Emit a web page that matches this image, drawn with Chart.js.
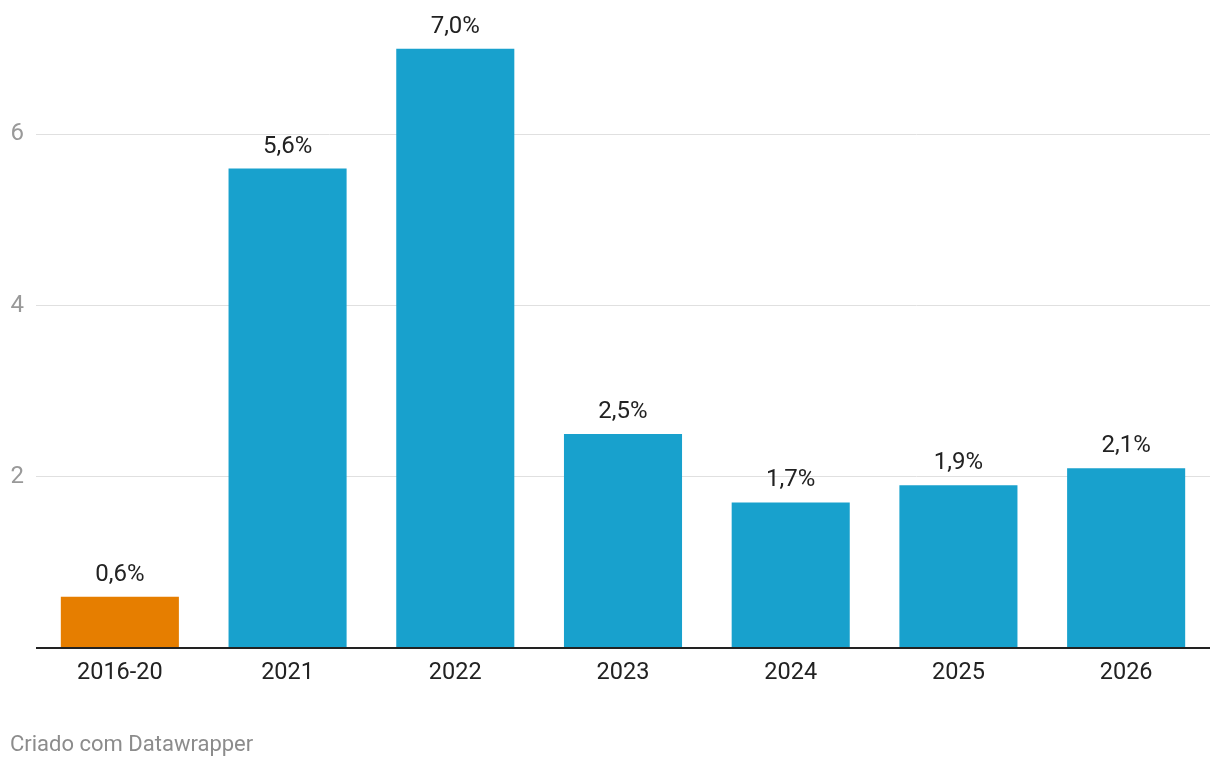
<!DOCTYPE html>
<html>
<head>
<meta charset="utf-8">
<script src="https://cdn.jsdelivr.net/npm/chart.js@4/dist/chart.umd.min.js"></script>
<style>
  html, body { margin: 0; padding: 0; background: #fff; }
  #wrap { position: relative; width: 1220px; height: 768px; }
  #footer {
    position: absolute; left: 10px; top: 731px;
    font-family: Roboto, sans-serif; font-size: 22px; color: #8c8c8c;
  }
</style>
</head>
<body>
<div id="wrap">
  <canvas id="chart" width="1220" height="768"></canvas>
  <div id="footer">Criado com Datawrapper</div>
</div>
<script>
const categories = ['2016-20', '2021', '2022', '2023', '2024', '2025', '2026'];
const values = [0.6, 5.6, 7.0, 2.5, 1.7, 1.9, 2.1];
const barColors = ['#e67e00', '#18a1cd', '#18a1cd', '#18a1cd', '#18a1cd', '#18a1cd', '#18a1cd'];
const yTicks = [0, 2, 4, 6];

// rótulos de valor acima das barras
const valueLabels = {
    id: 'valueLabels',
    afterDatasetsDraw(chart) {
        const ctx = chart.ctx;
        const meta = chart.getDatasetMeta(0);
        ctx.save();
        ctx.font = '24px Roboto';
        ctx.fillStyle = '#222';
        ctx.textAlign = 'center';
        ctx.textBaseline = 'alphabetic';
        meta.data.forEach((bar, i) => {
            ctx.fillText(values[i].toFixed(1).replace('.', ',') + '%', bar.x, bar.y - 16);
        });
        ctx.restore();
    }
};

const ctx = document.getElementById('chart').getContext('2d');
new Chart(ctx, {
    type: 'bar',
    data: {
        labels: categories,
        datasets: [{
            data: values,
            backgroundColor: barColors,
            borderWidth: 0,
            barPercentage: 0.704,
            categoryPercentage: 1
        }]
    },
    options: {
        responsive: false,
        animation: false,
        layout: { padding: { top: 6, right: 10, bottom: 80, left: 0 } },
        scales: {
            x: {
                grid: { display: false },
                border: { display: false },
                ticks: { color: '#222', font: { family: 'Roboto', size: 23.5 }, padding: 3 },
                afterFit(scale) { scale.height = 40; }
            },
            y: {
                min: 0,
                max: 7.26,
                afterBuildTicks(scale) { scale.ticks = yTicks.map(v => ({ value: v })); },
                border: { display: false },
                grid: {
                    drawTicks: false,
                    color: c => c.tick.value === 0 ? '#222' : '#e0e0e0',
                    lineWidth: c => c.tick.value === 0 ? 2 : 1
                },
                ticks: {
                    color: '#999',
                    font: { family: 'Roboto', size: 24 },
                    padding: 12,
                    callback: v => v === 0 ? '' : v
                },
                afterFit(scale) { scale.width = 36; }
            }
        },
        plugins: { legend: { display: false }, tooltip: { enabled: false } }
    },
    plugins: [valueLabels]
});
</script>
</body>
</html>
